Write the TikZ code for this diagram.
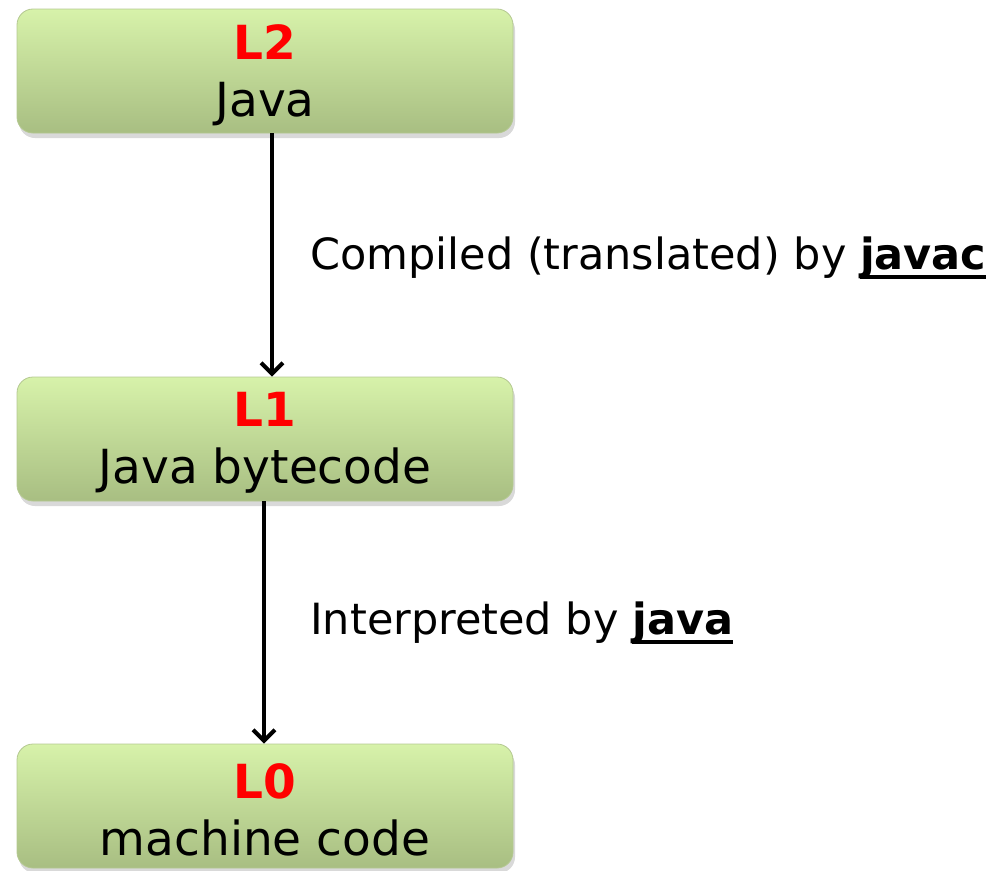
\documentclass[tikz,border=0pt]{standalone}
\usepackage{fontspec}
\setmainfont{DejaVu Sans}
\usetikzlibrary{arrows.meta,shadows}
\definecolor{boxtop}{RGB}{215,242,170}
\definecolor{boxbot}{RGB}{168,190,130}
\definecolor{boxline}{RGB}{180,200,145}
\definecolor{lvlred}{RGB}{255,0,0}
\tikzset{
  levelbox/.style={rectangle, rounded corners=16pt, minimum width=496pt, minimum height=124pt,
    top color=boxtop, bottom color=boxbot, draw=boxline, line width=0.8pt,
    drop shadow={shadow xshift=2pt, shadow yshift=-5pt, opacity=0.3}, inner sep=0pt},
  boxtext/.style={align=center, font=\fontsize{47}{57}\selectfont, inner sep=0pt},
  flow/.style={line width=4pt, -{Straight Barb[length=11pt,width=22pt,line width=4pt]}},
  lbl/.style={anchor=west, font=\fontsize{43}{50}\selectfont, inner sep=0pt}
}
\newcommand{\lvl}[1]{{\color{lvlred}\bfseries #1}}
\newcommand{\cmdname}[1]{\setbox0\hbox{\textbf{#1}}\rlap{\rule[-9pt]{\wd0}{3.5pt}}\box0}
\begin{document}
\begin{tikzpicture}[x=1pt,y=-1pt]
\useasboundingbox (0,0) rectangle (992,870);
\node[levelbox] (b2) at (265,71) {};
\node[levelbox] (b1) at (265,439) {};
\node[levelbox] (b0) at (265,806) {};
\node[boxtext] (t2) at ([yshift=-4pt]b2.center) {\lvl{L2}\\Java};
\node[boxtext] (t1) at ([yshift=-4pt]b1.center) {\lvl{L1}\\Java bytecode};
\node[boxtext] (t0) at ([yshift=-4pt]b0.center) {\lvl{L0}\\machine code};
\draw[flow] ([xshift=7pt]b2.south) -- ([xshift=7pt]b1.north);
\draw[flow] ([xshift=-1pt]b1.south) -- ([xshift=-1pt]b0.north);
\node[lbl] (c) at (310,258) {Compiled (translated) by \cmdname{javac}};
\node[lbl] (i) at (310,623) {Interpreted by \cmdname{java}};
\end{tikzpicture}
\end{document}
